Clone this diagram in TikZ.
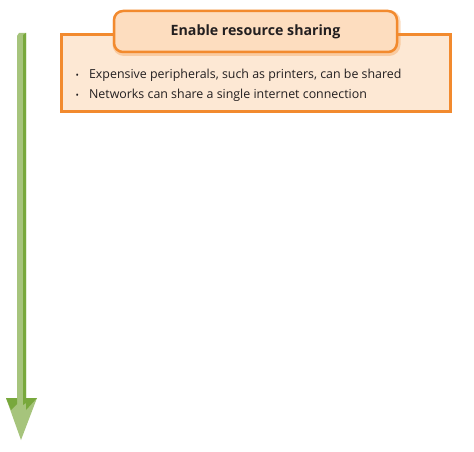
\documentclass[tikz,border=0pt]{standalone}
\usepackage{fontspec}
\setmainfont{Open Sans}
\usepackage{xcolor}
\usetikzlibrary{positioning}

\definecolor{boxorange}{HTML}{F28A2E}
\definecolor{boxfill}{HTML}{FDE8D4}
\definecolor{titlefill}{HTML}{FDDDBF}
\definecolor{arrowlight}{HTML}{A6C47C}
\definecolor{arrowdark}{HTML}{78A83C}
\definecolor{textdark}{HTML}{231F20}

\begin{document}
\begin{tikzpicture}[
  x=1pt, y=-1pt,
  panel/.style={rectangle, draw=boxorange, fill=boxfill, line width=3pt,
                minimum width=389pt, minimum height=77pt},
  heading/.style={rectangle, draw=boxorange, fill=titlefill, line width=2.5pt,
                  rounded corners=9pt, minimum width=283pt, minimum height=41pt,
                  font=\fontsize{14.2}{16}\selectfont\bfseries, text=textdark},
  bullets/.style={align=left, font=\fontsize{12.4}{20}\selectfont, text=textdark,
                  inner sep=0pt}
]
  \useasboundingbox (0,0) rectangle (474,452);

  % timeline arrow
  \fill[arrowlight] (17,36) -- (19,33) -- (26,33) -- (26,398) -- (37,398)
    -- (21,440) -- (6,398) -- (17,398) -- cycle;
  \fill[arrowdark] (23,35) -- (26,33) -- (26,403) -- (23,405) -- cycle;
  \fill[arrowdark] (6,398) -- (17,398) -- (17,404) -- (11,410) -- cycle;
  \fill[arrowdark] (26,398) -- (37,398) -- (26,410) -- cycle;

  % content panel
  \node[panel] (sharing) at (256,73) {};
  \node[heading, fill opacity=0.5, draw opacity=0.3, line width=5pt]
    (headshadow) at (256.5,33) {\phantom{Enable resource sharing}};
  \node[heading] (headsharing) at (255.5,31.5) {Enable resource sharing};
  \node[bullets, anchor=west] (points) at (75.5,85)
    {{\small\textbullet}\hspace{10pt}Expensive peripherals, such as printers, can be shared\\
     {\small\textbullet}\hspace{10pt}Networks can share a single internet connection};
\end{tikzpicture}
\end{document}
